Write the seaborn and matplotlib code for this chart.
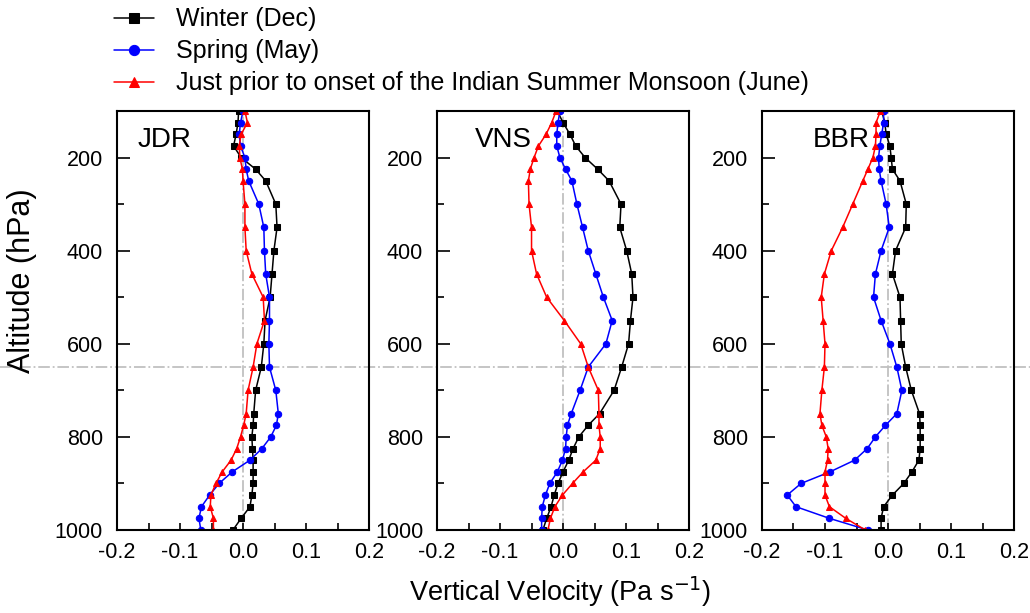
import numpy as np
import pandas as pd
import matplotlib
matplotlib.use("Agg")
import matplotlib.pyplot as plt
import matplotlib.transforms as mtransforms
from matplotlib.lines import Line2D
import seaborn as sns

# pressure levels (hPa)
levels = [100, 125, 150, 175, 200, 225, 250, 300, 350, 400, 450, 500, 550, 600,
          650, 700, 750, 775, 800, 825, 850, 875, 900, 925, 950, 975, 1000]

sites = ["JDR", "VNS", "BBR"]
series_names = ["Winter (Dec)", "Spring (May)",
                "Just prior to onset of the Indian Summer Monsoon (June)"]

# vertical velocity (Pa/s), top (100 hPa) to bottom (1000 hPa)
jdr_winter = [-0.007, -0.008, -0.011, -0.015, -0.003, 0.020, 0.036, 0.052, 0.054, 0.049,
              0.046, 0.043, 0.035, 0.033, 0.029, 0.020, 0.017, 0.016, 0.014, 0.015,
              0.016, 0.016, 0.016, 0.014, 0.011, -0.003, -0.016]
jdr_spring = [0.000, -0.004, -0.006, -0.004, 0.003, 0.005, 0.009, 0.025, 0.033, 0.034,
              0.036, 0.042, 0.042, 0.041, 0.042, 0.052, 0.056, 0.053, 0.044, 0.030,
              0.011, -0.017, -0.038, -0.053, -0.066, -0.070, -0.067]
jdr_june = [0.003, 0.007, -0.003, -0.006, -0.005, -0.001, 0.000, 0.003, 0.003, 0.005,
            0.014, 0.032, 0.034, 0.022, 0.016, 0.008, 0.005, 0.001, -0.004, -0.010,
            -0.019, -0.033, -0.043, -0.051, -0.052, -0.047, -0.047]

vns_winter = [-0.009, 0.000, 0.011, 0.020, 0.035, 0.055, 0.073, 0.092, 0.090, 0.101,
              0.109, 0.111, 0.107, 0.104, 0.093, 0.081, 0.058, 0.040, 0.025, 0.016,
              0.009, 0.000, -0.008, -0.014, -0.019, -0.026, -0.032]
vns_spring = [-0.005, -0.008, -0.010, -0.010, -0.005, 0.004, 0.014, 0.022, 0.031, 0.040,
              0.052, 0.064, 0.078, 0.068, 0.040, 0.027, 0.013, 0.007, 0.005, 0.004,
              -0.001, -0.009, -0.021, -0.028, -0.033, -0.034, -0.034]
vns_june = [-0.011, -0.018, -0.027, -0.039, -0.046, -0.052, -0.055, -0.054, -0.050, -0.050,
            -0.042, -0.026, 0.002, 0.028, 0.040, 0.056, 0.057, 0.057, 0.059, 0.059,
            0.052, 0.032, 0.015, -0.001, -0.013, -0.020, -0.024]

bbr_winter = [-0.010, -0.005, -0.003, 0.003, 0.005, 0.007, 0.019, 0.029, 0.028, 0.012,
              0.007, 0.019, 0.020, 0.021, 0.028, 0.037, 0.050, 0.051, 0.051, 0.051,
              0.049, 0.038, 0.025, 0.007, -0.007, -0.011, -0.011]
bbr_spring = [-0.007, -0.007, -0.010, -0.013, -0.015, -0.014, -0.011, -0.003, 0.002, -0.011,
              -0.020, -0.023, -0.011, 0.003, 0.014, 0.022, 0.014, -0.004, -0.020, -0.033,
              -0.053, -0.092, -0.138, -0.160, -0.146, -0.093, -0.032]
bbr_june = [-0.012, -0.019, -0.019, -0.020, -0.024, -0.032, -0.040, -0.056, -0.072, -0.090,
            -0.101, -0.106, -0.103, -0.100, -0.101, -0.105, -0.108, -0.105, -0.098, -0.095,
            -0.096, -0.100, -0.100, -0.100, -0.093, -0.067, -0.036]

site_data = {
    "JDR": [jdr_winter, jdr_spring, jdr_june],
    "VNS": [vns_winter, vns_spring, vns_june],
    "BBR": [bbr_winter, bbr_spring, bbr_june],
}

colors = ["black", "#0000ff", "#ff0000"]
markers = ["s", "o", "^"]

sns.set_style("ticks")
plt.rcParams["font.family"] = ["Liberation Sans", "DejaVu Sans"]
for key in ["text.color", "axes.labelcolor", "xtick.color", "ytick.color",
            "axes.edgecolor"]:
    plt.rcParams[key] = "black"

fig = plt.figure(figsize=(10.30, 6.13), dpi=100)
lefts = [0.1136, 0.4243, 0.7398]
label_x = [0.08, 0.15, 0.20]
axes = []
for i, site in enumerate(sites):
    ax = fig.add_axes([lefts[i], 0.1354, 0.2447, 0.6835])
    ax.set_facecolor("none")
    axes.append(ax)
    ax.axvline(0, color="#c0c0c0", ls="-.", lw=1.3, zorder=0)
    for j, name in enumerate(series_names):
        df = pd.DataFrame({"w": site_data[site][j], "p": levels})
        sns.lineplot(data=df, x="w", y="p", orient="y", sort=False, ax=ax,
                     color=colors[j], marker=markers[j], markersize=4.6,
                     markeredgecolor=colors[j], lw=1.1, label=name, legend=False)
    ax.set_xlim(-0.2, 0.2)
    ax.set_ylim(1000, 100)
    ax.set_xticks([-0.2, -0.1, 0.0, 0.1, 0.2])
    ax.set_xticklabels(["-0.2", "-0.1", "0.0", "0.1", "0.2"])
    ax.set_xticks(np.arange(-0.15, 0.2, 0.1), minor=True)
    ax.set_yticks([200, 400, 600, 800, 1000])
    ax.set_yticks([300, 500, 700, 900], minor=True)
    ax.tick_params(axis="both", which="both", direction="in", labelsize=15.5,
                   width=1.2, top=False, right=False, colors="black")
    ax.tick_params(axis="y", which="major", length=9, pad=10)
    ax.tick_params(axis="y", which="minor", length=5)
    ax.tick_params(axis="x", which="both", length=5, pad=9)
    ax.set_xlabel("")
    ax.set_ylabel("")
    for sp in ax.spines.values():
        sp.set_linewidth(1.5)
        sp.set_color("black")
    ax.text(label_x[i], 0.914, site, transform=ax.transAxes, fontsize=20,
            ha="left", va="baseline")

# horizontal reference line across the whole figure
trans = mtransforms.blended_transform_factory(fig.transFigure, axes[0].transData)
fig.add_artist(Line2D([0, 1], [650, 650], transform=trans, color="#c0c0c0",
                      ls="-.", lw=1.3, zorder=-1))

handles, labels = axes[0].get_legend_handles_labels()
fig.legend(handles, labels, loc="upper left", bbox_to_anchor=(0.108, 0.992),
           frameon=False, fontsize=18, handlelength=1.6, handletextpad=0.9,
           labelspacing=0.32, borderpad=0.1, borderaxespad=0, markerscale=1.6)

fig.text(0.021, 0.5416, "Altitude (hPa)", rotation=90, ha="center", va="center",
         fontsize=22)
fig.text(0.5437, 0.006, "Vertical Velocity (Pa s$^{-1}$)", ha="center",
         va="bottom", fontsize=19.5)

fig.savefig("out.png", dpi=100)
